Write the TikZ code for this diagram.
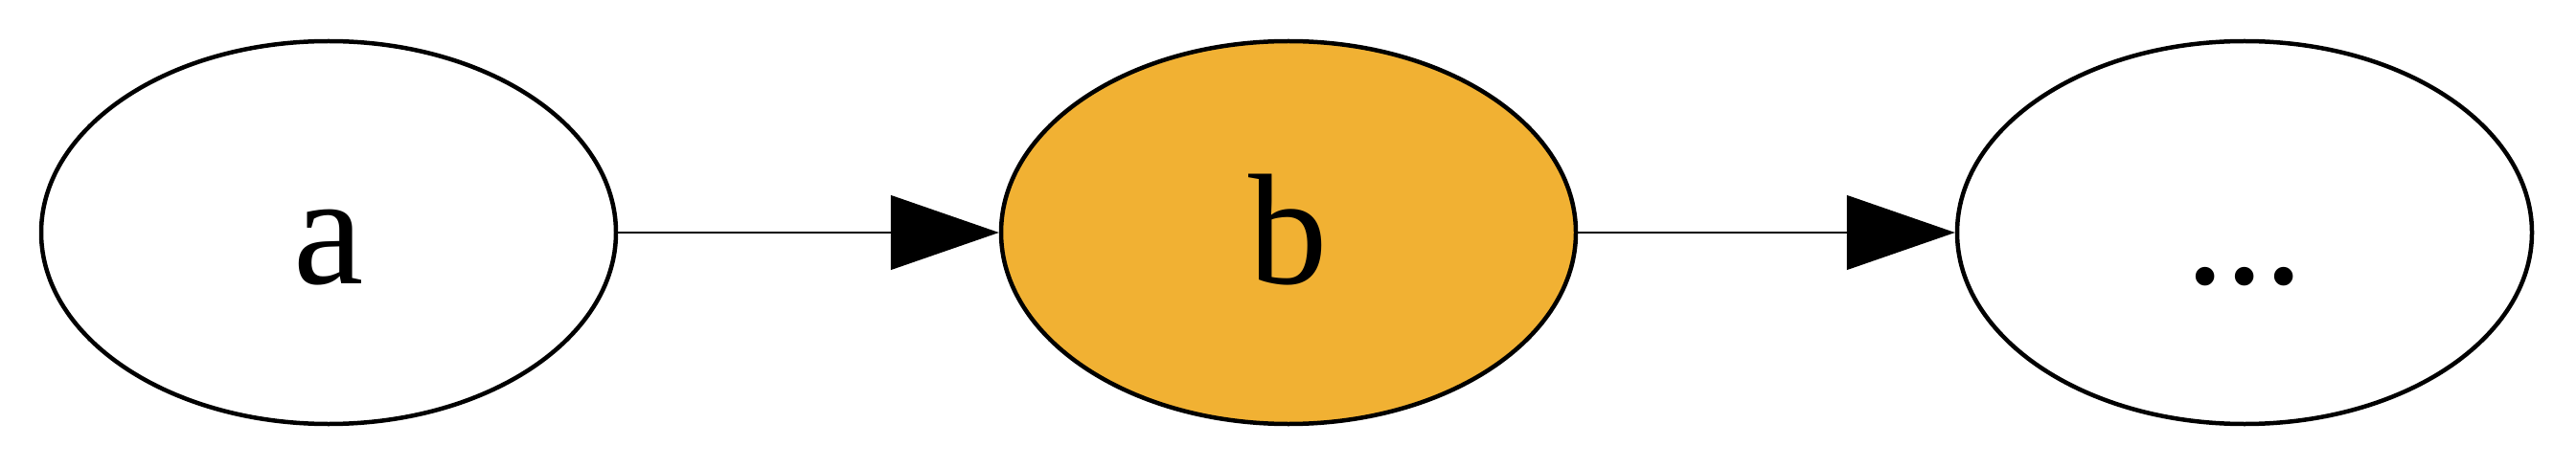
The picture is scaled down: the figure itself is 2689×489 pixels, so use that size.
\documentclass[tikz,border=0pt]{standalone}
\usepackage{fontspec}
\setmainfont{Liberation Serif}
\usetikzlibrary{shapes.geometric,arrows.meta}
\definecolor{nodeorange}{HTML}{F1B133}
\newcommand{\lowered}[1]{\raisebox{-53pt}[0pt][0pt]{#1}}
\tikzset{
  state/.style={ellipse, draw=black, line width=4.5pt, minimum width=600pt, minimum height=400pt, inner sep=0pt, font=\fontsize{165}{165}\selectfont},
  link/.style={line width=1.3pt, -{Triangle[length=113pt,width=78pt]}}
}
\begin{document}
\begin{tikzpicture}[x=1pt,y=-1pt]
\useasboundingbox (0,0) rectangle (2689,489);
\node[state] (a) at (343,243) {\lowered{a}};
\node[state, fill=nodeorange] (b) at (1345,243) {\lowered{b}};
\node[state] (c) at (2343,243) {\lowered{...}};
\draw[link] (a) -- (b);
\draw[link] (b) -- (c);
\end{tikzpicture}
\end{document}
